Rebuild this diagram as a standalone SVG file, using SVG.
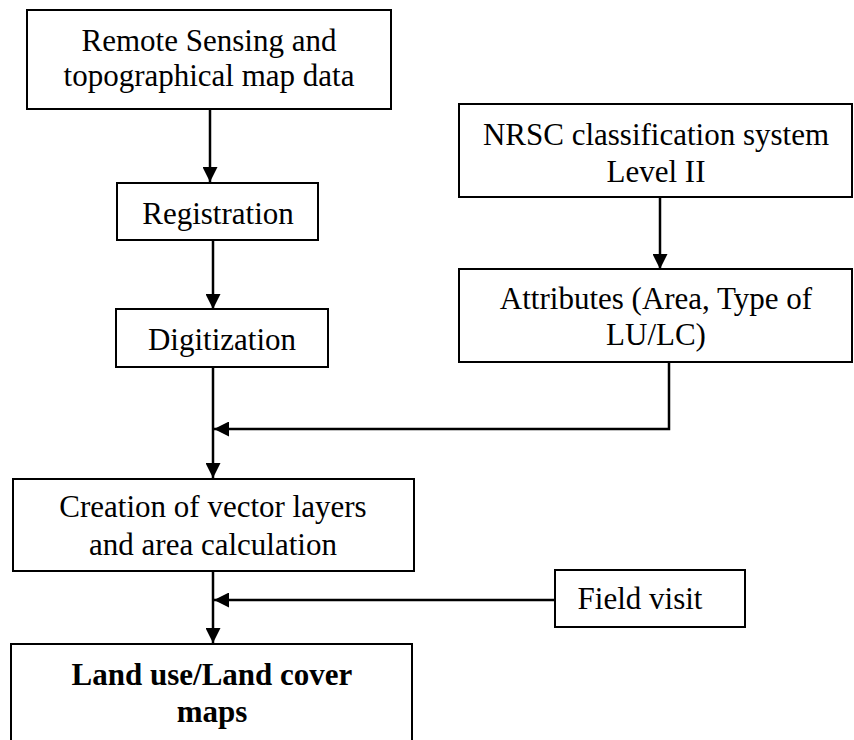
<svg xmlns="http://www.w3.org/2000/svg" width="854" height="740" viewBox="0 0 854 740">
<style>
.box{fill:#fff;stroke:#000;stroke-width:2}
.t{font-family:"Liberation Serif","Times New Roman",serif;font-size:31px;fill:#000;text-anchor:middle}
.b{font-weight:bold}
.c{fill:none;stroke:#000;stroke-width:2.5}
</style>
<defs>
<marker id="ah" markerUnits="userSpaceOnUse" viewBox="0 0 15 15" refX="15" refY="7.5" markerWidth="15" markerHeight="15" orient="auto">
<path d="M0,0 L15,7.5 L0,15 z" fill="#000"/>
</marker>
</defs>
<rect width="854" height="740" fill="#fff"/>
<g id="connectors">
<path class="c" d="M210,109 V182" marker-end="url(#ah)"/>
<path class="c" d="M213,240 V309" marker-end="url(#ah)"/>
<path class="c" d="M213,367 V478" marker-end="url(#ah)"/>
<path class="c" d="M660,197 V269" marker-end="url(#ah)"/>
<path class="c" d="M669,362 V429 H214" marker-end="url(#ah)"/>
<path class="c" d="M213,571 V643" marker-end="url(#ah)"/>
<path class="c" d="M555,600 H214" marker-end="url(#ah)"/>
</g>
<g id="remote-sensing">
<rect class="box" x="27" y="10" width="364" height="99"/>
<text class="t" x="209" y="51">Remote Sensing and</text>
<text class="t" x="209" y="86">topographical map data</text>
</g>
<g id="registration">
<rect class="box" x="117" y="183" width="201" height="57"/>
<text class="t" x="218" y="224">Registration</text>
</g>
<g id="digitization">
<rect class="box" x="116" y="309" width="212" height="58"/>
<text class="t" x="222" y="350">Digitization</text>
</g>
<g id="nrsc">
<rect class="box" x="459" y="104" width="393" height="93"/>
<text class="t" x="656" y="145">NRSC classification system</text>
<text class="t" x="656" y="182">Level II</text>
</g>
<g id="attributes">
<rect class="box" x="459" y="269" width="393" height="93"/>
<text class="t" x="656" y="309">Attributes (Area, Type of</text>
<text class="t" x="656" y="345">LU/LC)</text>
</g>
<g id="creation">
<rect class="box" x="13" y="479" width="401" height="92"/>
<text class="t" x="213" y="517">Creation of vector layers</text>
<text class="t" x="213" y="555">and area calculation</text>
</g>
<g id="field-visit">
<rect class="box" x="555" y="570" width="190" height="57"/>
<text class="t" x="640" y="609">Field visit</text>
</g>
<g id="land-use">
<rect class="box" x="11" y="644" width="401" height="120"/>
<text class="t b" x="212" y="685">Land use/Land cover</text>
<text class="t b" x="212" y="722">maps</text>
</g>
</svg>
